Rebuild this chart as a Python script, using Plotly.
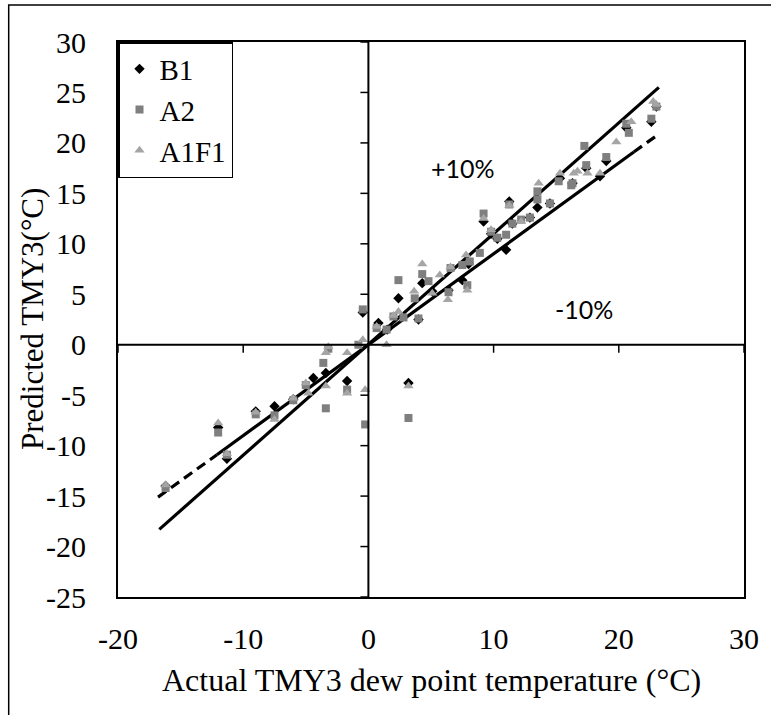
import plotly.graph_objects as go

# ---- data ----
b1_x = [-16.2, -12.0, -11.3, -9.0, -7.5, -6.0, -4.4, -3.4, -1.7, -0.45, 0.8, 1.5, 2.4, 3.2, 4.0, 4.3,
        5.1, 6.4, 7.5, 8.0, 9.2, 9.8, 10.3, 11.0, 11.25, 11.5, 12.9, 13.5, 14.5, 15.3, 16.3, 17.4,
        18.5, 19.0, 20.6, 22.6, 23.0]
b1_y = [-14.0, -8.2, -11.3, -6.6, -6.1, -5.4, -3.3, -2.8, -3.6, 3.2, 2.15, 1.5, 4.6, -3.8, 2.5, 6.1,
        5.3, 5.4, 6.4, 8.0, 12.2, 11.0, 10.5, 9.4, 14.2, 12.0, 12.6, 13.6, 14.0, 16.5, 16.0, 17.5,
        16.7, 18.2, 21.5, 22.1, 23.6]

a2_x = [-16.2, -12.0, -11.3, -9.0, -7.5, -6.0, -5.0, -3.4, -3.6, -3.2, -1.7, -0.8, -0.45, -0.26,
        0.66, 1.45, 2.0, 2.4, 2.8, 3.2, 3.7, 4.0, 4.3, 4.8, 6.4, 6.56, 7.5, 7.9, 8.1, 8.9, 9.2, 9.8,
        10.3, 11.0, 11.25, 11.5, 12.2, 12.9, 13.5, 13.5, 14.5, 15.2, 16.2, 16.3, 17.25, 17.4, 19.0,
        20.6, 20.8, 22.6, 23.0]
a2_y = [-14.2, -8.7, -10.9, -6.9, -7.0, -5.5, -4.0, -6.3, -1.8, -0.4, -4.45, 0.0, 3.5, -7.9,
        1.65, 1.5, 2.8, 6.4, 2.7, -7.26, 4.6, 2.6, 7.0, 6.3, 5.2, 7.6, 7.9, 5.9, 8.25, 9.1, 13.0, 11.2,
        10.6, 10.9, 13.9, 12.0, 12.4, 12.6, 15.2, 14.4, 14.0, 16.2, 15.8, 16.0, 19.7, 17.8, 18.6,
        21.9, 21.0, 22.4, 23.6]

a1f1_x = [-16.2, -12.0, -11.3, -9.0, -7.5, -6.0, -5.0, -4.8, -3.4, -3.4, -3.2, -1.7, -1.7, -0.45,
          -0.26, 0.66, 1.45, 2.0, 2.4, 3.2, 3.65, 4.3, 5.1, 5.7, 6.35, 6.56, 7.8, 7.9, 9.2, 9.8,
          11.25, 12.2, 13.6, 15.3, 16.4, 16.7, 17.5, 18.5, 19.8, 21.0, 22.75, 23.0]
a1f1_y = [-13.9, -7.75, -10.8, -6.7, -7.4, -5.3, -3.8, -4.8, -4.1, -0.8, -0.2, -4.8, -0.8, 0.5,
          -4.45, 1.8, 0.0, 2.9, 3.3, -4.1, 5.3, 8.0, 5.1, 6.9, 4.46, 7.7, 8.9, 5.4, 12.5, 11.4,
          13.8, 12.2, 16.0, 17.0, 17.0, 17.2, 17.0, 17.0, 20.1, 22.1, 24.1, 23.8]

# +10% / -10% reference lines
upper_x = [-16.7, 23.2]
upper_y = [-18.3, 25.5]
lower_solid_x = [-12.1, 21.2]
lower_solid_y = [-10.9, 19.1]
lower_dash_lo_x = [-16.8, -12.1]
lower_dash_lo_y = [-15.1, -10.9]
lower_dash_hi_x = [21.2, 23.0]
lower_dash_hi_y = [19.1, 20.7]

x_ticks = [-20, -10, 0, 10, 20, 30]
x_tick_text = ["-20", "-10", "0", "10", "20", "30"]
y_ticks = [-25, -20, -15, -10, -5, 0, 5, 10, 15, 20, 25, 30]
y_tick_text = ["-25", "-20", "-15", "-10", "-5", "0", "5", "10", "15", "20", "25", "30"]

SERIF = "'Liberation Serif', 'Times New Roman', Times, 'DejaVu Serif', serif"
SANS = "Lato, 'Open Sans', sans-serif"

fig = go.Figure()

# reference lines
line_style = dict(color="black", width=3.2)
fig.add_trace(go.Scatter(x=upper_x, y=upper_y, mode="lines", line=line_style, showlegend=False, hoverinfo="skip"))
fig.add_trace(go.Scatter(x=lower_solid_x, y=lower_solid_y, mode="lines", line=line_style, showlegend=False, hoverinfo="skip"))
fig.add_trace(go.Scatter(x=lower_dash_lo_x, y=lower_dash_lo_y, mode="lines",
                         line=dict(color="black", width=3.2, dash="10px,6px"), showlegend=False, hoverinfo="skip"))
fig.add_trace(go.Scatter(x=lower_dash_hi_x, y=lower_dash_hi_y, mode="lines",
                         line=dict(color="black", width=3.2, dash="10px,6px"), showlegend=False, hoverinfo="skip"))

# data series
fig.add_trace(go.Scatter(x=b1_x, y=b1_y, mode="markers", name="B1",
                         marker=dict(symbol="diamond", size=8, color="black")))
fig.add_trace(go.Scatter(x=a2_x, y=a2_y, mode="markers", name="A2",
                         marker=dict(symbol="square", size=8, color="#7f7f7f")))
fig.add_trace(go.Scatter(x=a1f1_x, y=a1f1_y, mode="markers", name="A1F1",
                         marker=dict(symbol="triangle-up", size=9, color="#a5a5a5")))

# axis lines through the origin with tick marks
shapes = [
    dict(type="line", xref="x", yref="y", x0=x_ticks[0], x1=x_ticks[-1], y0=0, y1=0,
         line=dict(color="black", width=2)),
    dict(type="line", xref="x", yref="y", x0=0, x1=0, y0=y_ticks[0], y1=y_ticks[-1],
         line=dict(color="black", width=2)),
]
for xv in x_ticks:
    shapes.append(dict(type="line", xref="x", yref="y", ysizemode="pixel", yanchor=0,
                       x0=xv, x1=xv, y0=0, y1=-8, line=dict(color="black", width=1.5)))
for yv in y_ticks:
    shapes.append(dict(type="line", xref="x", yref="y", xsizemode="pixel", xanchor=0,
                       y0=yv, y1=yv, x0=-8, x1=0, line=dict(color="black", width=1.5)))
# outer figure border (partly cropped)
shapes.append(dict(type="rect", xref="paper", yref="paper", x0=-0.1746, x1=1.2, y0=-0.4, y1=1.0667,
                   line=dict(color="black", width=1.5), layer="below"))

fig.update_layout(
    width=771, height=715,
    margin=dict(l=118, r=23, t=42, b=118),
    paper_bgcolor="white", plot_bgcolor="white",
    font=dict(family=SERIF, size=30, color="black"),
    shapes=shapes,
    legend=dict(x=0, y=1, xanchor="left", yanchor="top", bgcolor="white",
                bordercolor="black", borderwidth=1.5,
                font=dict(family=SERIF, size=29, color="black"),
                tracegroupgap=0, itemwidth=30),
    xaxis=dict(range=[-20, 30], tickvals=x_ticks, ticktext=x_tick_text, showgrid=False, zeroline=False,
               showline=True, mirror=True, linecolor="black", linewidth=2,
               ticks="outside", ticklen=14, tickcolor="rgba(0,0,0,0)",
               tickfont=dict(family=SERIF, size=30, color="black")),
    yaxis=dict(range=[-25, 30], tickvals=y_ticks, ticktext=y_tick_text, showgrid=False, zeroline=False,
               showline=True, mirror=True, linecolor="black", linewidth=2,
               ticks="outside", ticklen=24, tickcolor="rgba(0,0,0,0)",
               tickfont=dict(family=SERIF, size=30, color="black")),
    annotations=[
        dict(text="Actual TMY3 dew point temperature (°C)", xref="paper", yref="paper",
             x=0.5, y=-0.1495, xanchor="center", yanchor="middle", showarrow=False,
             font=dict(family=SERIF, size=32, color="black")),
        dict(text="Predicted TMY3(°C)", xref="paper", yref="paper", textangle=-90,
             x=-0.1365, y=0.5, xanchor="center", yanchor="middle", showarrow=False,
             font=dict(family=SERIF, size=31, color="black")),
        dict(text="+10%", xref="x", yref="y", x=7.55, y=17.5, showarrow=False,
             font=dict(family=SANS, size=25, color="black")),
        dict(text="-10%", xref="x", yref="y", x=17.2, y=3.5, showarrow=False,
             font=dict(family=SANS, size=25, color="black")),
    ],
)

fig.write_html("out.html")
